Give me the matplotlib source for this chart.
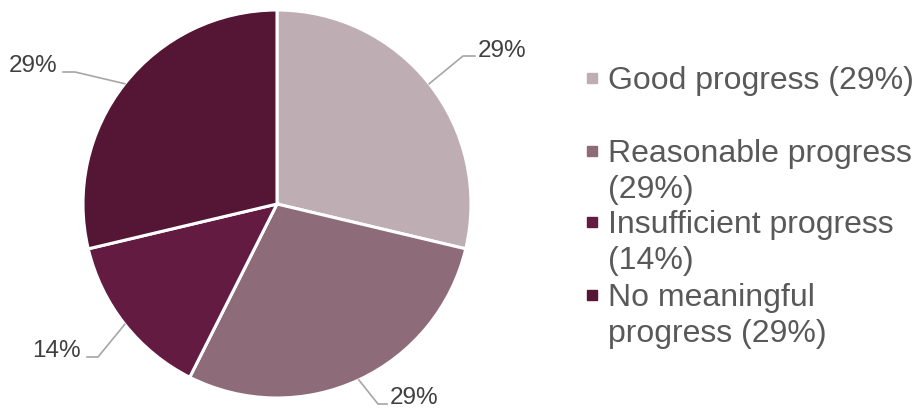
import textwrap
import numpy as np
import matplotlib
matplotlib.use('Agg')
import matplotlib.pyplot as plt

plt.rcParams['font.family'] = ['Liberation Sans', 'DejaVu Sans']

# progress ratings, share of cases in percent
categories = ['Good progress', 'Reasonable progress', 'Insufficient progress',
              'No meaningful progress']
shares = [29, 29, 14, 29]
colors = ['#BEAEB4', '#8E6B78', '#641B41', '#541634']

W, H = 915, 408


def px(x, y):
    # image-style pixel coords (y down) -> axes data coords (y up)
    return x, H - y


fig = plt.figure(figsize=(W / 100, H / 100), dpi=100)
ax = fig.add_axes([0, 0, 1, 1])

cx, cy = px(277, 204)
radius = 194
wedges, _ = ax.pie(shares, colors=colors, startangle=90, counterclock=False,
                   center=(cx, cy), radius=radius,
                   wedgeprops=dict(edgecolor='white', linewidth=2.2))

# leader lines: elbow, end of the short horizontal piece, text anchor
leaders = [
    ((463, 56), (475, 56), (478, 57), 'left'),
    ((378, 404), (387, 404), (390, 404), 'left'),
    ((98, 357), (87, 357), (81, 357), 'right'),
    ((75, 72), (63, 72), (57, 72), 'right'),
]
for w, share, (elbow, end, txt, ha) in zip(wedges, shares, leaders):
    mid = np.deg2rad((w.theta1 + w.theta2) / 2)
    x0 = cx + radius * np.cos(mid)
    y0 = cy + radius * np.sin(mid)
    ex, ey = px(*elbow)
    hx, hy = px(*end)
    ax.plot([x0, ex, hx], [y0, ey, hy], color='#A6A6A6', lw=1.2,
            solid_joinstyle='miter', zorder=1)
    tx, ty = px(*txt)
    ax.text(tx, ty, '%d%%' % share, ha=ha, va='baseline', fontsize=17.5,
            color='#404040')

# legend drawn by hand so two-line entries keep an even spacing
first_baselines = [89, 162, 233, 306]
line_gap = 36
for cat, share, col, base in zip(categories, shares, colors, first_baselines):
    lines = textwrap.wrap('%s (%d%%)' % (cat, share), width=21)
    mx, my = px(592, base - 11)
    ax.plot(mx, my, marker='s', markersize=7.9, color=col, linestyle='none')
    for i, line in enumerate(lines):
        tx, ty = px(608, base + i * line_gap)
        ax.text(tx, ty, line, ha='left', va='baseline', fontsize=23,
                color='#595959')

ax.set_xlim(0, W)
ax.set_ylim(0, H)
ax.set_aspect('auto')
ax.axis('off')

fig.savefig('out.png', dpi=100)
